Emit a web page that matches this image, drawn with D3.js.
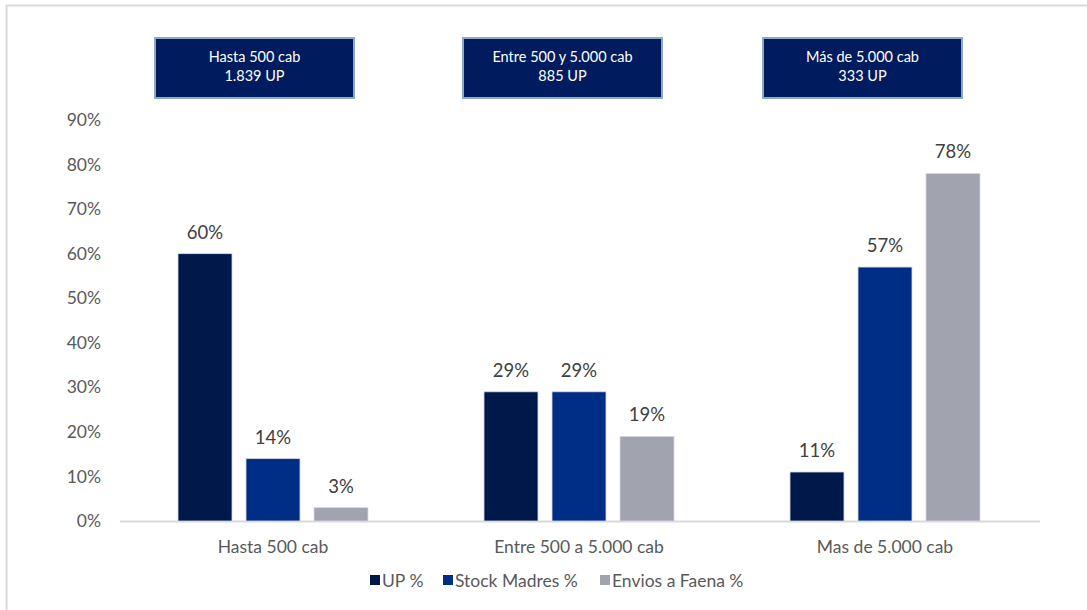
<!DOCTYPE html>
<html><head><meta charset="utf-8">
<script src="https://cdn.jsdelivr.net/npm/d3@7"></script>
<style>body{margin:0;background:#fff}svg{display:block}</style>
</head><body>
<svg id="c" width="1087" height="610"></svg>
<script>
const categories = ["Hasta 500 cab", "Entre 500 a 5.000 cab", "Mas de 5.000 cab"];
const series = ["UP %", "Stock Madres %", "Envios a Faena %"];
const upValues = [60, 29, 11];
const stockValues = [14, 29, 57];
const enviosValues = [3, 19, 78];
const yTicks = [0, 10, 20, 30, 40, 50, 60, 70, 80, 90];
const boxLine1 = ["Hasta 500 cab", "Entre 500  y 5.000 cab", "Más de 5.000 cab"];
const boxLine2 = ["1.839  UP", "885  UP", "333  UP"];
const colors = ["#00194B", "#002E87", "#A1A3AF"];

const values = [upValues, stockValues, enviosValues];
const font = "Lato, 'Open Sans', sans-serif";
const svg = d3.select("#c");

// frame
svg.append("rect").attr("x", 6.5).attr("y", 5.5).attr("width", 1200).attr("height", 700)
  .attr("fill", "none").attr("stroke", "#D9D9D9").attr("stroke-width", 2);

const x = d3.scaleBand().domain(categories).range([120, 1038]).padding(0);
const xi = d3.scaleBand().domain(series).range([0, x.bandwidth()])
  .paddingInner(0.206).paddingOuter(0.853);
const y = d3.scaleLinear().domain([0, 90]).range([521, 120]);

// y axis labels
const yAxis = d3.axisLeft(y).tickValues(yTicks).tickFormat(d => d + "%").tickSize(0).tickPadding(0);
const ya = svg.append("g").attr("transform", "translate(101,0)").call(yAxis);
ya.select(".domain").remove();
ya.selectAll("text").attr("font-family", font).attr("font-size", 17.5).attr("fill", "#595959");

// x axis
const xAxis = d3.axisBottom(x).tickSize(0).tickPadding(19);
const xa = svg.append("g").attr("transform", "translate(0,521.5)").call(xAxis);
xa.select(".domain").attr("stroke", "#D9D9D9").attr("stroke-width", 2)
  .attr("d", "M120,0H1040");
xa.selectAll("text").attr("font-family", font).attr("font-size", 17.5).attr("fill", "#595959");

// bars
categories.forEach((cat, ci) => {
  const g = svg.append("g").attr("transform", `translate(${x(cat)},0)`);
  series.forEach((s, si) => {
    const v = values[si][ci];
    g.append("rect").attr("x", xi(s)).attr("y", y(v))
      .attr("width", xi.bandwidth()).attr("height", y(0) - y(v))
      .attr("fill", colors[si]).attr("stroke", "#D6DAE4").attr("stroke-width", 0.8);
    g.append("text").attr("x", xi(s) + xi.bandwidth() / 2).attr("y", y(v) - 15)
      .attr("text-anchor", "middle").attr("font-family", font).attr("font-size", 18.5)
      .attr("fill", "#404040").text(v + "%");
  });
});

// header boxes
const boxX = [155, 463, 763];
categories.forEach((cat, i) => {
  svg.append("rect").attr("x", boxX[i]).attr("y", 38).attr("width", 199).attr("height", 60)
    .attr("fill", "#001C5E").attr("stroke", "#8FA9BF").attr("stroke-width", 2);
  svg.append("text").attr("x", boxX[i] + 99.5).attr("y", 61.5).attr("text-anchor", "middle")
    .attr("font-family", font).attr("font-size", 14.5).attr("fill", "#fff").text(boxLine1[i]);
  svg.append("text").attr("x", boxX[i] + 99.5).attr("y", 80.5).attr("text-anchor", "middle")
    .attr("font-family", font).attr("font-size", 14.5).attr("fill", "#fff").text(boxLine2[i]);
});

// legend
const legX = [370, 443, 600];
series.forEach((s, i) => {
  svg.append("rect").attr("x", legX[i]).attr("y", 575).attr("width", 10).attr("height", 10).attr("fill", colors[i]);
  svg.append("text").attr("x", legX[i] + 12).attr("y", 586.5).attr("font-family", font)
    .attr("font-size", 17.5).attr("fill", "#595959").text(s);
});
</script>
</body></html>
